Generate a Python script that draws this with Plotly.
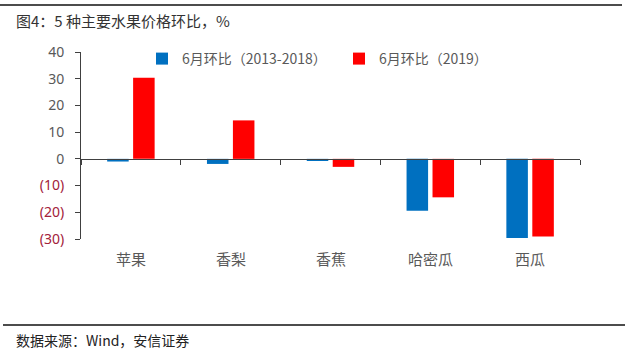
import plotly.graph_objects as go

categories = ["苹果", "香梨", "香蕉", "哈密瓜", "西瓜"]
series_names = ["6月环比（2013-2018）", "6月环比（2019）"]
avg_2013_2018 = [-1.0, -1.9, -0.8, -19.4, -29.6]
val_2019 = [30.4, 14.4, -3.0, -14.4, -29.1]
tick_vals = [-30, -20, -10, 0, 10, 20, 30, 40]
tick_text = ["(30)", "(20)", "(10)", "0", "10", "20", "30", "40"]

title_text = "图4：5 种主要水果价格环比，%"
source_text = "数据来源：Wind，安信证券"

W, H = 633, 351
L, R, T, B = 81, 53, 52, 112
pw, ph = W - L - R, H - T - B


def px(x):
    return (x - L) / pw


def py(y):
    return (H - B - y) / ph


neg_color = "#A3213A"
pos_color = "#595959"
ticktext_colored = [
    f"<span style='color:{neg_color}'>{t}</span>" if v < 0 else t
    for v, t in zip(tick_vals, tick_text)
]

fig = go.Figure()
fig.add_trace(go.Bar(x=categories, y=avg_2013_2018, name=series_names[0],
                     marker=dict(color="#0070C0", line=dict(width=0)), legend="legend"))
fig.add_trace(go.Bar(x=categories, y=val_2019, name=series_names[1],
                     marker=dict(color="#FF0000", line=dict(width=0)), legend="legend2"))

legend_font = dict(size=14, color=pos_color, family="Noto Sans CJK SC")
fig.update_layout(
    width=W, height=H,
    margin=dict(l=L, r=R, t=T, b=B, pad=0),
    paper_bgcolor="white", plot_bgcolor="white",
    barmode="group", bargap=0.48, bargroupgap=0.17,
    font=dict(family="Noto Sans CJK SC", color=pos_color, size=13),
    showlegend=True,
    legend=dict(orientation="h", x=px(142), y=py(59), xanchor="left", yanchor="middle",
                bgcolor="rgba(0,0,0,0)", font=legend_font, itemwidth=30),
    legend2=dict(orientation="h", x=px(339), y=py(59), xanchor="left", yanchor="middle",
                 bgcolor="rgba(0,0,0,0)", font=legend_font, itemwidth=30),
    xaxis=dict(
        type="category", anchor="free", position=3 / 7,
        showline=True, linecolor="#404040", linewidth=1,
        ticks="outside", tickson="boundaries", ticklen=5, tickcolor="#404040",
        showticklabels=False, showgrid=False, zeroline=False,
    ),
    yaxis=dict(
        range=[-30, 40], tickvals=tick_vals, ticktext=ticktext_colored,
        showline=True, linecolor="#404040", linewidth=1,
        ticks="outside", ticklen=5, tickcolor="#404040",
        showgrid=False, zeroline=False,
        tickfont=dict(family="Noto Sans", size=14, color=pos_color),
        ticklabelstandoff=8,
    ),
)

annotations = []
for c in categories:
    annotations.append(dict(x=c, y=py(258), xref="x", yref="paper", text=c,
                            showarrow=False, yanchor="middle",
                            font=dict(size=15, color=pos_color, family="Noto Sans CJK SC")))
annotations.append(dict(x=px(14), y=py(20), xref="paper", yref="paper", text=title_text,
                        showarrow=False, xanchor="left", yanchor="middle",
                        font=dict(size=15, color="#333333", family="Noto Sans CJK SC")))
annotations.append(dict(x=px(14), y=py(340), xref="paper", yref="paper", text=source_text,
                        showarrow=False, xanchor="left", yanchor="middle",
                        font=dict(size=14, color="#222222", family="Noto Sans CJK SC")))
fig.update_layout(annotations=annotations)

fig.add_shape(type="line", xref="paper", yref="paper", x0=px(0), x1=px(622),
              y0=py(5), y1=py(5), line=dict(color="#111111", width=1.5))
fig.add_shape(type="line", xref="paper", yref="paper", x0=px(3), x1=px(625),
              y0=py(325), y1=py(325), line=dict(color="#111111", width=1.5))

fig.write_html("out.html")
